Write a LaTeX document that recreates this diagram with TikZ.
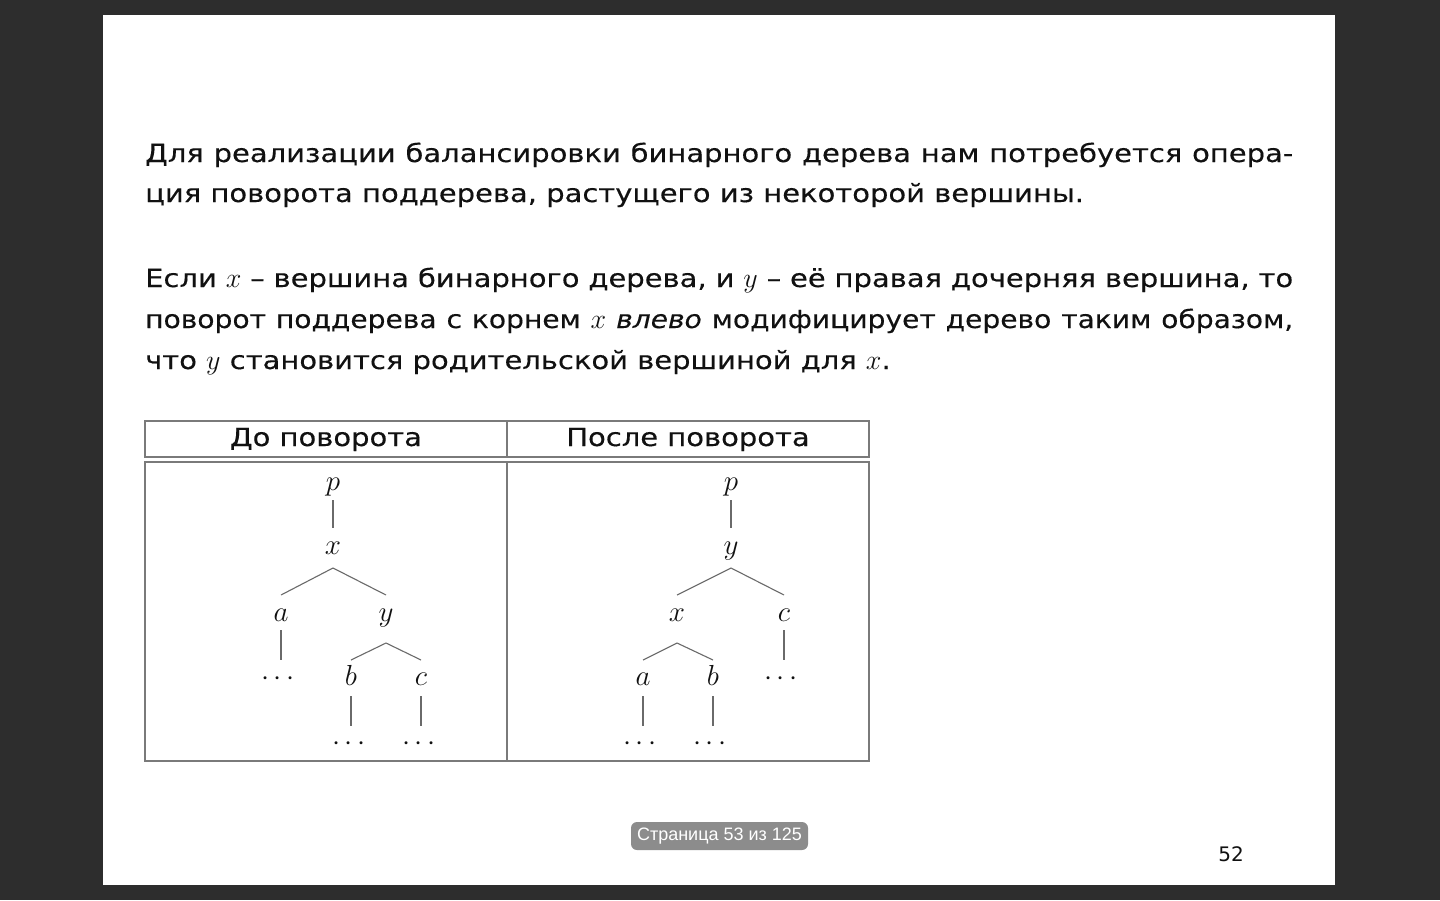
\RequirePackage{fix-cm}
\documentclass[tikz,border=0pt]{standalone}
\usepackage{fontspec}
\setmainfont{DejaVu Sans}[FakeStretch=1.16,FakeBold=0.3]
\newfontfamily\narrowfont{DejaVu Sans}[FakeStretch=1.125,FakeBold=0.3]
\newfontfamily\uifont{Liberation Sans}
\newfontfamily\numfont{DejaVu Sans}
\definecolor{bggray}{HTML}{2D2D2D}
\definecolor{edgegray}{HTML}{6A6A6A}
\definecolor{gridgray}{HTML}{7A7A7A}
\definecolor{pillgray}{HTML}{8C8C8C}
\definecolor{ink}{HTML}{111111}
\newcommand\mth[1]{{\fontsize{28}{30}\selectfont$#1$}}
\tikzset{
  body/.style={anchor=base west, inner sep=0pt, text=ink, font=\fontsize{25}{30}\selectfont},
  hdr/.style={anchor=base, inner sep=0pt, text=ink, font=\fontsize{25}{30}\selectfont},
  lbl/.style={anchor=base, inner sep=0pt, text=ink, font=\fontsize{29}{30}\selectfont},
  treeedge/.style={draw=edgegray, line width=1.1pt},
  gridline/.style={draw=gridgray, line width=1.3pt},
  pill/.style={fill=pillgray, rounded corners=6pt, minimum width=177pt, minimum height=28pt, inner sep=0pt, text=white, font=\uifont\fontsize{18}{20}\selectfont},
}
\begin{document}
\begin{tikzpicture}[x=1pt,y=-1pt]
\useasboundingbox[fill=bggray] (0,0) rectangle (1440,900);
\fill[white] (103,15) rectangle (1335,885);

% paragraph 1
\node[body] (l1) at (145,162) {\makebox[1148pt][s]{Для реализации балансировки бинарного дерева нам потребуется опера-}};
\node[body] (l2) at (145,202) {ция поворота поддерева, растущего из некоторой вершины.};
% paragraph 2
\node[body] (m1) at (145,287) {\makebox[1148pt][s]{Если \mth{x} – вершина бинарного дерева, и \mth{y} – её правая дочерняя вершина, то}};
\node[body] (m2) at (145,328) {\narrowfont\makebox[1148pt][s]{поворот поддерева с корнем \mth{x} \textit{влево} модифицирует дерево таким образом,}};
\node[body] (m3) at (145,369) {что \mth{y} становится родительской вершиной для \mth{x}.};

% table
\draw[gridline] (145,421) rectangle (869,457);
\draw[gridline] (507,421) -- (507,457);
\draw[gridline] (145,462) rectangle (869,761);
\draw[gridline] (507,462) -- (507,761);
\node[hdr] (h1) at (326,446) {До поворота};
\node[hdr] (h2) at (688,446) {После поворота};

% left tree
\node[lbl] (Lp) at (333,490) {$p$};
\node[lbl] (Lx) at (333,554) {$x$};
\node[lbl] (La) at (281,621) {$a$};
\node[lbl] (Ly) at (386,621) {$y$};
\node[lbl] (Lda) at (278,685) {$\cdots$};
\node[lbl] (Lb) at (351,685) {$b$};
\node[lbl] (Lc) at (421,685) {$c$};
\node[lbl] (Ldb) at (349,750) {$\cdots$};
\node[lbl] (Ldc) at (419,750) {$\cdots$};

\draw[treeedge] ([yshift=-10pt]Lp.base) -- ([yshift=26pt]Lx.base);
\draw[treeedge] ([yshift=26pt]La.base) -- ([yshift=-14pt]Lx.base) -- ([yshift=26pt]Ly.base);
\draw[treeedge] ([yshift=-9pt]La.base) -- ([yshift=25pt]La.base |- Lda.base);
\draw[treeedge] ([yshift=25pt]Lb.base) -- ([yshift=-22pt]Ly.base) -- ([yshift=25pt]Lc.base);
\draw[treeedge] ([yshift=-11pt]Lb.base) -- ([yshift=24pt]Lb.base |- Ldb.base);
\draw[treeedge] ([yshift=-11pt]Lc.base) -- ([yshift=24pt]Lc.base |- Ldc.base);

% right tree
\node[lbl] (Rp) at (731,490) {$p$};
\node[lbl] (Ry) at (731,554) {$y$};
\node[lbl] (Rx) at (677,621) {$x$};
\node[lbl] (Rc) at (784,621) {$c$};
\node[lbl] (Ra) at (643,685) {$a$};
\node[lbl] (Rb) at (713,685) {$b$};
\node[lbl] (Rdc) at (781,685) {$\cdots$};
\node[lbl] (Rda) at (640,750) {$\cdots$};
\node[lbl] (Rdb) at (710,750) {$\cdots$};

\draw[treeedge] ([yshift=-10pt]Rp.base) -- ([yshift=26pt]Ry.base);
\draw[treeedge] ([yshift=26pt]Rx.base) -- ([yshift=-14pt]Ry.base) -- ([yshift=26pt]Rc.base);
\draw[treeedge] ([yshift=25pt]Ra.base) -- ([yshift=-22pt]Rx.base) -- ([yshift=25pt]Rb.base);
\draw[treeedge] ([yshift=-9pt]Rc.base) -- ([yshift=25pt]Rc.base |- Rdc.base);
\draw[treeedge] ([yshift=-11pt]Ra.base) -- ([yshift=24pt]Ra.base |- Rda.base);
\draw[treeedge] ([yshift=-11pt]Rb.base) -- ([yshift=24pt]Rb.base |- Rdb.base);

% footer
\node[pill] (pg) at (719.5,836) {Страница 53 из 125};
\node[anchor=base, inner sep=0pt, text=ink, font=\numfont\fontsize{20}{22}\selectfont] (num) at (1231,861) {52};
\end{tikzpicture}
\end{document}
